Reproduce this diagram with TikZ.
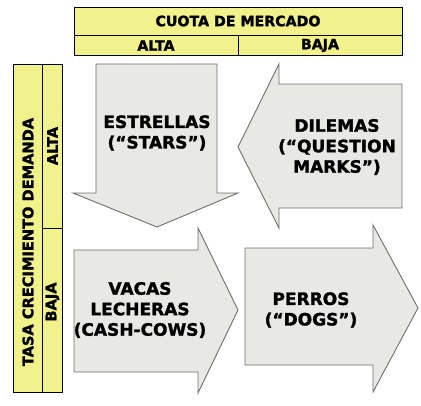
\documentclass[tikz,border=0pt]{standalone}
\usepackage{fontspec}
\setmainfont{DejaVu Sans}[BoldFeatures={FakeBold=1.6}]
\begin{document}
\begin{tikzpicture}[x=1pt,y=-1pt,
  hdr/.style={draw=black,line width=0.9pt,fill=hdryellow},
  arrowshape/.style={draw=arrowgray,line width=0.9pt,fill=arrowfill},
  bigtxt/.style={font=\bfseries\fontsize{17}{20.5}\selectfont,align=center,inner sep=0pt},
  smalltxt/.style={font=\bfseries\fontsize{14.2}{16}\selectfont,inner sep=0pt},
  sidetxt/.style={font=\bfseries\fontsize{14.6}{16}\selectfont,inner sep=0pt,rotate=90}]
\definecolor{hdryellow}{HTML}{F2F28C}
\definecolor{arrowfill}{HTML}{E8E8E4}
\definecolor{arrowgray}{HTML}{6E6E6E}
\useasboundingbox (0,0) rectangle (421,405);
% header
\draw[hdr] (74,7) rectangle (402,35);
\draw[hdr] (74,35) rectangle (238,55);
\draw[hdr] (238,35) rectangle (402,55);
\node[smalltxt] (cuota) at (238,21) {CUOTA DE MERCADO};
\node[smalltxt] (altaH) at (156,45.5) {ALTA};
\node[smalltxt] (bajaH) at (320,45.5) {BAJA};
% left bar
\draw[hdr] (13,64) rectangle (42,392);
\draw[hdr] (42,64) rectangle (62,228);
\draw[hdr] (42,228) rectangle (62,392);
\node[sidetxt] (tasa) at (28,242) {TASA CRECIMIENTO DEMANDA};
\node[sidetxt] (altaV) at (52.5,146) {ALTA};
\node[sidetxt] (bajaV) at (52.5,302) {BAJA};
% stars arrow (down)
\draw[arrowshape] (96,64) -- (217,64) -- (217,193) -- (238,193) -- (157,227) -- (73,193) -- (96,193) -- cycle;
% dilemas arrow (left)
\draw[arrowshape] (402,84) -- (279,84) -- (279,64) -- (238,147) -- (279,228) -- (279,208) -- (402,208) -- cycle;
% cash cows arrow (right)
\draw[arrowshape] (74,250) -- (198,250) -- (198,228) -- (238,310) -- (198,393) -- (198,372) -- (74,372) -- cycle;
% dogs arrow (right)
\draw[arrowshape] (245,248) -- (373,248) -- (373,225) -- (418,308) -- (373,392) -- (373,365) -- (245,365) -- cycle;
% labels
\node[bigtxt] (stars) at (157,133) {ESTRELLAS\\(“STARS”)};
\node[bigtxt] (dilemas) at (337,147) {DILEMAS\\(“QUESTION\\MARKS”)};
\node[bigtxt] (vacas) at (140,310) {VACAS\\LECHERAS\\(CASH-COWS)};
\node[bigtxt] (perros) at (311,310) {PERROS\\(“DOGS”)};
\end{tikzpicture}
\end{document}
